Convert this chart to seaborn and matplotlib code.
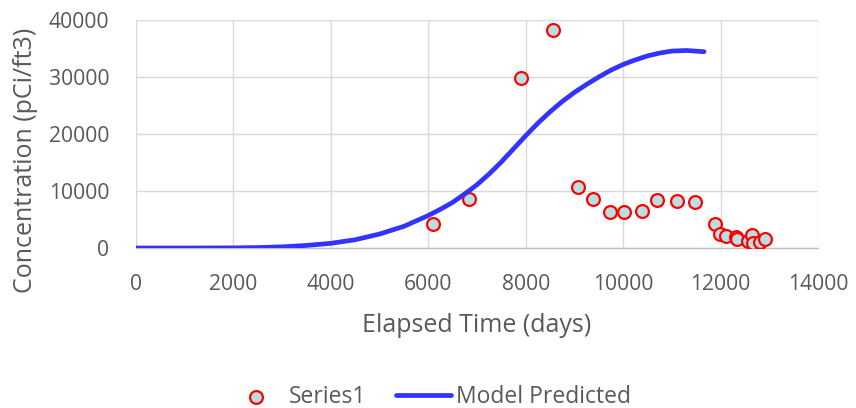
import matplotlib
matplotlib.use("Agg")
import matplotlib.pyplot as plt
import seaborn as sns
import pandas as pd

# Measured concentrations
obs_days = [6097, 6836, 7904, 8561, 9080, 9382, 9731, 10018, 10394, 10696, 11113,
            11476, 11880, 11990, 12120, 12320, 12330, 12570, 12640, 12673, 12810, 12913]
obs_conc = [4200, 8600, 29800, 38200, 10700, 8600, 6250, 6300, 6450, 8500, 8250,
            8000, 4200, 2500, 2050, 1950, 1500, 1300, 2250, 800, 1100, 1650]

# Model curve
model_days = [0, 1000, 2000, 2500, 3000, 3500, 4000, 4500, 5000, 5500, 6000, 6250,
              6500, 6750, 7000, 7250, 7500, 7750, 8000, 8250, 8500, 8750, 9000,
              9250, 9500, 9750, 10000, 10250, 10500, 10750, 11000, 11300, 11660]
model_conc = [0, 0, 20, 80, 200, 450, 820, 1450, 2450, 3800, 5700, 6800,
              8000, 9500, 11100, 13000, 15100, 17400, 19700, 21900, 23900, 25700, 27300,
              28700, 30000, 31200, 32200, 33000, 33700, 34200, 34550, 34650, 34440]

x_ticks = list(range(0, 14001, 2000))
y_ticks = list(range(0, 40001, 10000))

obs = pd.DataFrame({"days": obs_days, "conc": obs_conc})
model = pd.DataFrame({"days": model_days, "conc": model_conc})

sns.set_theme(style="whitegrid")
plt.rcParams["font.family"] = ["Open Sans", "DejaVu Sans"]
text_color = "#595959"

fig = plt.figure(figsize=(8.56, 4.08), dpi=100)
ax = fig.add_axes([136 / 856, 1 - 248 / 408, 682 / 856, 228 / 408])

sns.scatterplot(data=obs, x="days", y="conc", ax=ax, s=85, color="#b9dfe2",
                edgecolor="#ff0000", linewidth=1.6, label="Series1", zorder=3)
sns.lineplot(data=model, x="days", y="conc", ax=ax, color="#3333ff", linewidth=3.4,
             label="Model Predicted", zorder=4, solid_capstyle="round",
             solid_joinstyle="round")

ax.set_xlim(0, 14000)
ax.set_ylim(0, 40000)
ax.set_xticks(x_ticks)
ax.set_yticks(y_ticks)
ax.set_xticklabels([str(v) for v in x_ticks])
ax.set_yticklabels([str(v) for v in y_ticks])
ax.grid(True, color="#d9d9d9", linewidth=1.0)
for side in ["top", "right", "left"]:
    ax.spines[side].set_visible(False)
ax.spines["bottom"].set_color("#bfbfbf")
ax.spines["bottom"].set_linewidth(1.0)
ax.tick_params(axis="both", length=0, labelsize=15.2, colors=text_color)
ax.tick_params(axis="y", pad=19)
ax.tick_params(axis="x", pad=19)

ax.set_xlabel("Elapsed Time (days)", fontsize=18, color=text_color, va="center")
ax.set_ylabel("Concentration (pCi/ft3)", fontsize=18, color=text_color, va="center")
ax.xaxis.set_label_coords(0.5, (248 - 326) / 228)
ax.yaxis.set_label_coords((26 - 136) / 682, (248 - 160) / 228)

ax.legend_.remove()
handles, labels = ax.get_legend_handles_labels()
fig.legend(handles, labels, loc="center", bbox_to_anchor=(0.502, 1 - 397 / 408),
           ncol=2, frameon=False, fontsize=16.5, labelcolor=text_color,
           handlelength=2.4, handletextpad=0.22, columnspacing=1.3)

fig.savefig("out.png", dpi=100)
